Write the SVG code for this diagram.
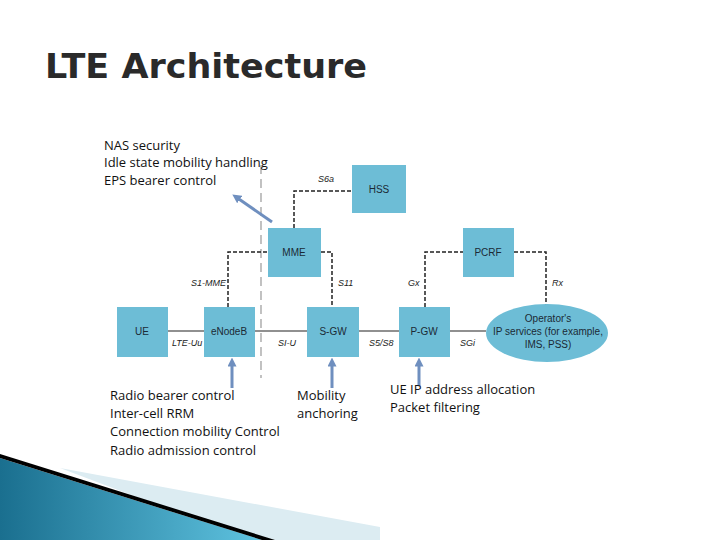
<svg xmlns="http://www.w3.org/2000/svg" width="720" height="540" viewBox="0 0 720 540">
<defs>
<style>
.box{fill:#6dbdd6}
.nl{font-family:"Liberation Sans Narrow","Liberation Sans",sans-serif;font-size:10px;fill:#1b2a35;text-anchor:middle}
.il{font-family:"Liberation Sans",sans-serif;font-size:9px;font-style:italic;fill:#222}
.t{font-family:"Open Sans","Liberation Sans",sans-serif;font-size:13px;fill:#111}
.d{fill:none;stroke:#222;stroke-width:1.5;stroke-dasharray:4,2}
.s{stroke:#222;stroke-width:1.2}
.ar{stroke:#6f8fbf;stroke-width:3;fill:none;marker-end:url(#ah)}
</style>
<marker id="ah" viewBox="0 0 10 10" refX="5" refY="5" markerWidth="3" markerHeight="3" orient="auto"><path d="M0,0L10,5L0,10z" fill="#6f8fbf"/></marker>
<linearGradient id="bg" x1="0" y1="0" x2="1" y2="0"><stop offset="0" stop-color="#1a6f8f"/><stop offset="1" stop-color="#5fc3e0"/></linearGradient>
</defs>
<rect width="720" height="540" fill="#fff"/>
<text x="45" y="78" font-family="DejaVu Sans, sans-serif" font-size="34" font-weight="bold" fill="#2a2a2a" textLength="322" lengthAdjust="spacingAndGlyphs">LTE Architecture</text>
<g id="decor">
<polygon points="60,468 380,527 380,540 250,540" fill="#dcecf2"/>
<polygon points="0,458 0,540 262,540" fill="url(#bg)"/>
<polygon points="0,454 275,540 262,540 0,458" fill="#000"/>
</g>
<line x1="261" y1="165" x2="261" y2="378" stroke="#999" stroke-width="1.2" stroke-dasharray="9,5"/>
<g id="connectors">
<line class="s" x1="168" y1="331" x2="204" y2="331"/>
<line class="s" x1="255" y1="331" x2="307" y2="331"/>
<line class="s" x1="359" y1="331" x2="399" y2="331"/>
<line class="s" x1="450" y1="331" x2="486" y2="331"/>
<polyline class="d" points="294,228 294,191 352,191"/>
<polyline class="d" points="228,307 228,252 268,252"/>
<polyline class="d" points="321,252 332,252 332,307"/>
<polyline class="d" points="425,307 425,252 463,252"/>
<polyline class="d" points="514,252 546,252 546,305"/>
<line class="ar" x1="272" y1="222" x2="236" y2="197"/>
<line class="ar" x1="232" y1="388" x2="232" y2="362"/>
<line class="ar" x1="332" y1="388" x2="332" y2="362"/>
<line class="ar" x1="419" y1="386" x2="419" y2="362"/>
<text class="il" x="318" y="182">S6a</text>
<text class="il" x="191" y="286">S1-MME</text>
<text class="il" x="338" y="286">S11</text>
<text class="il" x="408" y="286">Gx</text>
<text class="il" x="552" y="286">Rx</text>
<text class="il" x="172" y="346">LTE-Uu</text>
<text class="il" x="278" y="346">SI-U</text>
<text class="il" x="369" y="346">S5/S8</text>
<text class="il" x="460" y="346">SGi</text>
</g>
<g id="hss"><rect class="box" x="352" y="165" width="54" height="48"/><text class="nl" x="379" y="193">HSS</text></g>
<g id="mme"><rect class="box" x="268" y="228" width="53" height="49"/><text class="nl" x="294" y="256">MME</text></g>
<g id="pcrf"><rect class="box" x="463" y="228" width="51" height="49"/><text class="nl" x="488" y="256">PCRF</text></g>
<g id="ue"><rect class="box" x="117" y="307" width="51" height="50"/><text class="nl" x="142" y="335">UE</text></g>
<g id="enodeb"><rect class="box" x="204" y="307" width="51" height="50"/><text class="nl" x="229" y="335">eNodeB</text></g>
<g id="sgw"><rect class="box" x="307" y="307" width="52" height="50"/><text class="nl" x="333" y="335">S-GW</text></g>
<g id="pgw"><rect class="box" x="399" y="307" width="51" height="50"/><text class="nl" x="424" y="335">P-GW</text></g>
<g id="ops"><ellipse class="box" cx="547" cy="333" rx="61" ry="29"/>
<text class="nl" x="548" y="322">Operator's</text><text class="nl" x="548" y="335">IP services (for example,</text><text class="nl" x="548" y="348">IMS, PSS)</text></g>
<g id="notes">
<text class="t" x="104" y="150">NAS security</text>
<text class="t" x="104" y="167">Idle state mobility handling</text>
<text class="t" x="104" y="185">EPS bearer control</text>
<text class="t" x="110" y="400">Radio bearer control</text>
<text class="t" x="110" y="418">Inter-cell RRM</text>
<text class="t" x="110" y="436">Connection mobility Control</text>
<text class="t" x="110" y="455">Radio admission control</text>
<text class="t" x="297" y="400">Mobility</text>
<text class="t" x="297" y="418">anchoring</text>
<text class="t" x="390" y="394">UE IP address allocation</text>
<text class="t" x="390" y="412">Packet filtering</text>
</g>
</svg>
